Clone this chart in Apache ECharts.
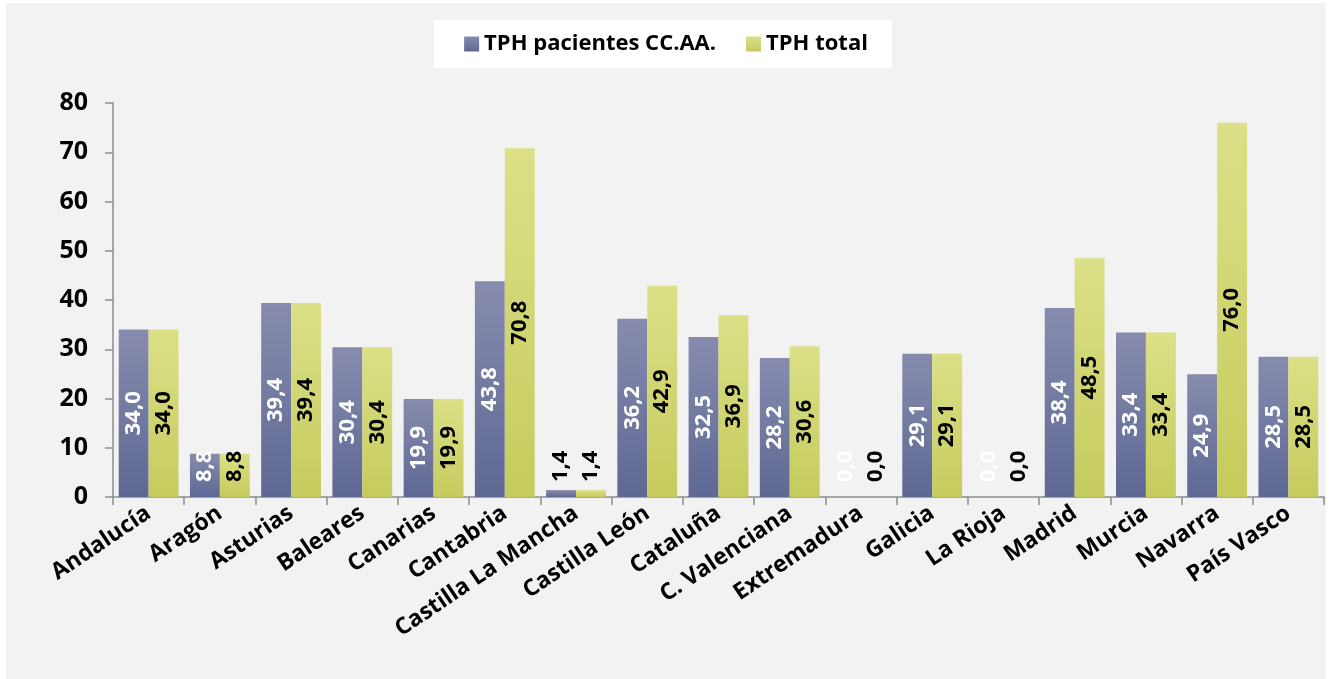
<!DOCTYPE html>
<html>
<head>
<meta charset="utf-8">
<title>TPH por CC.AA.</title>
<script src="https://cdn.jsdelivr.net/npm/echarts@6/dist/echarts.min.js"></script>
<style>
  html, body { margin: 0; padding: 0; background: #ffffff; }
  #chart {
    position: absolute;
    left: 6px;
    top: 3px;
    width: 1320px;
    height: 676px;
  }
</style>
</head>
<body>
<div id="chart"></div>
<script>
// datos
const regiones = ['Andalucía', 'Aragón', 'Asturias', 'Baleares', 'Canarias', 'Cantabria',
  'Castilla La Mancha', 'Castilla León', 'Cataluña', 'C. Valenciana', 'Extremadura',
  'Galicia', 'La Rioja', 'Madrid', 'Murcia', 'Navarra', 'País Vasco'];
const tphPacientes = [34.0, 8.8, 39.4, 30.4, 19.9, 43.8, 1.4, 36.2, 32.5, 28.2, 0.0,
  29.1, 0.0, 38.4, 33.4, 24.9, 28.5];
const tphTotal = [34.0, 8.8, 39.4, 30.4, 19.9, 70.8, 1.4, 42.9, 36.9, 30.6, 0.0,
  29.1, 0.0, 48.5, 33.4, 76.0, 28.5];
const yTicks = [0, 10, 20, 30, 40, 50, 60, 70, 80];

const FONT = '"Open Sans", sans-serif';

// etiqueta con coma decimal
const fmt = (p) => p.value.toFixed(1).replace('.', ',');

// barras bajas: etiqueta apoyada sobre el eje en vez de centrada
// (si la barra es casi plana la etiqueta queda fuera, en negro)
const withLabels = (values) => values.map(v => {
  if (v < 10) {
    const lbl = {
      position: 'insideBottom',
      distance: 15,
      align: 'left',
      verticalAlign: 'middle'
    };
    if (v > 0 && v < 5) lbl.color = '#000000';
    return { value: v, label: lbl };
  }
  return v;
});

const blueGrad = new echarts.graphic.LinearGradient(0, 0, 0, 1, [
  { offset: 0, color: '#878cae' },
  { offset: 1, color: '#5e6894' }
]);
const greenGrad = new echarts.graphic.LinearGradient(0, 0, 0, 1, [
  { offset: 0, color: '#dbe087' },
  { offset: 1, color: '#c6cb5e' }
]);

const myChart = echarts.init(document.getElementById('chart'));

const option = {
  backgroundColor: '#f2f2f2',
  animation: false,
  textStyle: { fontFamily: FONT },
  legend: {
    top: 17,
    left: 'center',
    backgroundColor: '#ffffff',
    padding: [13, 24, 13, 30],
    itemWidth: 15,
    itemHeight: 15,
    itemGap: 30,
    icon: 'rect',
    textStyle: {
      fontFamily: FONT,
      fontSize: 22,
      fontWeight: 'bold',
      color: '#000000'
    },
    data: ['TPH pacientes CC.AA.', 'TPH total']
  },
  grid: {
    left: 107,
    top: 100,
    width: 1211,
    height: 394
  },
  xAxis: {
    type: 'category',
    data: regiones,
    axisLine: { lineStyle: { color: '#8c8c8c', width: 1.5 } },
    axisTick: { show: true, length: 8, interval: 0, lineStyle: { color: '#8c8c8c', width: 1.5 } },
    axisLabel: {
      interval: 0,
      rotate: 34,
      margin: 14,
      fontFamily: FONT,
      fontSize: 23,
      fontWeight: 'bold',
      color: '#000000'
    }
  },
  yAxis: {
    type: 'value',
    min: yTicks[0],
    max: yTicks[yTicks.length - 1],
    interval: 10,
    splitLine: { show: false },
    axisLine: { show: true, lineStyle: { color: '#8c8c8c', width: 1.5 } },
    axisTick: { show: true, length: 8, lineStyle: { color: '#8c8c8c', width: 1.5 } },
    axisLabel: {
      margin: 25,
      fontFamily: FONT,
      fontSize: 25,
      fontWeight: 'bold',
      color: '#000000'
    }
  },
  series: [
    {
      name: 'TPH pacientes CC.AA.',
      type: 'bar',
      barGap: '0%',
      barCategoryGap: '16%',
      itemStyle: { color: blueGrad },
      label: {
        show: true,
        position: 'inside',
        rotate: 90,
        formatter: fmt,
        fontFamily: FONT,
        fontSize: 22,
        fontWeight: 'bold',
        color: '#ffffff'
      },
      data: withLabels(tphPacientes)
    },
    {
      name: 'TPH total',
      type: 'bar',
      barGap: '0%',
      barCategoryGap: '16%',
      itemStyle: { color: greenGrad },
      label: {
        show: true,
        position: 'inside',
        rotate: 90,
        formatter: fmt,
        fontFamily: FONT,
        fontSize: 22,
        fontWeight: 'bold',
        color: '#000000'
      },
      data: withLabels(tphTotal)
    }
  ]
};

myChart.setOption(option);
</script>
</body>
</html>
